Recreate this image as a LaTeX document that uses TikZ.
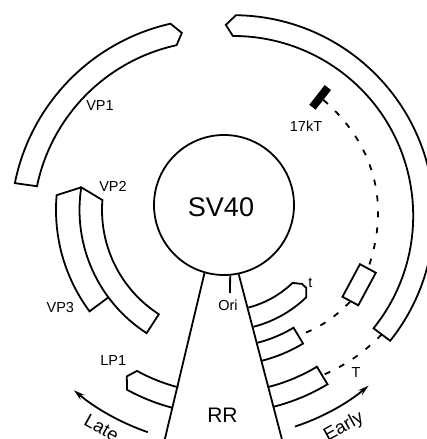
\documentclass[tikz,border=0pt]{standalone}
\usepackage{fontspec}
\setmainfont{Liberation Sans}
\usetikzlibrary{arrows.meta}

\begin{document}
\begin{tikzpicture}[x=1pt,y=1pt,
  gene/.style={line width=1.8pt,line join=miter},
  intron/.style={line width=1.8pt,dash pattern=on 6pt off 10pt},
  dir/.style={line width=1.8pt,-{Stealth[length=11pt,width=6pt]}},
  lbl/.style={font=\fontsize{14.5}{14.5}\selectfont,inner sep=0pt},
  big/.style={font=\fontsize{18.5}{18.5}\selectfont,inner sep=0pt}]
\useasboundingbox (0,0) rectangle (426,439);
% centres of the (not quite concentric) arcs
\coordinate (O) at (224,227);
\coordinate (cE) at (233.5,223.3);
\coordinate (cV) at (215.4,215.8);
\coordinate (cP) at (226,229);

% genome and replication region
\node[draw,circle,gene,minimum size=140,inner sep=0pt] (sv) at (224,234) {};
\node[font=\fontsize{27}{27}\selectfont,inner sep=0pt] (svlbl) at (221,232) {SV40};
\coordinate (oriEnd) at (230,146);
\draw[gene] (sv.275) -- (oriEnd);
\node[lbl] (ori) at (228,134) {Ori};
\node[font=\fontsize{21}{21}\selectfont,inner sep=0pt] (rr) at (222.5,24) {RR};

% early side
\begin{scope}[shift={(O)}]
  \coordinate (rrL) at (255.4:234.6);
  \coordinate (rrR) at (-75.7:234.3);
  % small t
  \draw[gene] (-75.7:98.6) arc[start angle=-75.7,end angle=-46,radius=98.6]
    -- (-42.7:106) -- (-42.7:112) -- (-46:118.5)
    arc[start angle=-46,end angle=-75.7,radius=118.5];
  % first exons
  \draw[gene] (-75.7:135) arc[start angle=-75.7,end angle=-59,radius=135]
    -- (-59:153.5) arc[start angle=-59,end angle=-75.7,radius=153.5];
  \coordinate (ex2) at (-59:144.3);
  \draw[gene] (-75.7:180.5) arc[start angle=-75.7,end angle=-59,radius=180.5]
    -- (-59:201) arc[start angle=-59,end angle=-75.7,radius=201];
  \coordinate (ex3) at (-59:190.7);
  % 17kT exons
  \node[fill=black,rotate=52,minimum width=25,minimum height=8,inner sep=0pt] (kT) at (50:149.6) {};
  \node[draw,gene,fill=white,rotate=-28.3,minimum width=18,minimum height=37,inner sep=0pt] (wb) at (-28.3:153.5) {};
  % LP1
  \draw[gene] (255.4:181.2) arc[start angle=255.4,end angle=241.3,radius=181.2]
    -- (239.4:191) -- (241.4:202.5)
    arc[start angle=241.4,end angle=255.4,radius=202.5];
  % directions
  \draw[dir] (250.9:233) arc[start angle=250.9,end angle=229.9,radius=233];
  \draw[dir] (-71.7:226) arc[start angle=-71.7,end angle=-50.2,radius=226];
\end{scope}
\draw[gene] (sv.254) -- (rrL);
\draw[gene] (sv.282) -- (rrR);

% large T second exon
\begin{scope}[shift={(cE)}]
  \draw[gene] (-38.8:179.7) arc[start angle=-38.8,end angle=90.2,radius=179.7]
    -- (92.3:191) -- (89.3:200.5)
    arc[start angle=89.3,end angle=-38.6,radius=200.5] -- cycle;
  \coordinate (bigT) at (-38.7:190);
\end{scope}

% VP1
\begin{scope}[shift={(cV)}]
  \draw[gene] (168.3:182.2) arc[start angle=168.3,end angle=102.3,radius=182.2]
    -- (100:193.3) -- (102.7:204.5)
    arc[start angle=102.7,end angle=168.7,radius=204.5] -- cycle;
\end{scope}

% VP2 and VP3
\begin{scope}[shift={(cP)}]
  \draw[gene] (216.6:146.5) -- (216.6:170)
    arc[start angle=216.6,end angle=175,radius=170] -- (171.1:146.5);
  \draw[gene] (171.1:146.5) arc[start angle=171.1,end angle=237.2,radius=146.5]
    -- (237.2:124) arc[start angle=237.2,end angle=175.4,radius=124] -- cycle;
\end{scope}

% introns
\draw[intron] (kT.south) to[bend left=34] (wb.north);
\draw[intron] (wb.south) to[bend left=12] (ex2);
\draw[intron] (bigT) to[bend left=10] (ex3);

% labels
\node[lbl] (vp1) at (100,333) {VP1};
\node[lbl] (vp2) at (113,253) {VP2};
\node[lbl] (vp3) at (60.3,131.5) {VP3};
\node[lbl] (lp1) at (113.3,78) {LP1};
\node[lbl] (kTlbl) at (306,313) {17kT};
\node[lbl] (tlbl) at (310.5,156.5) {t};
\node[lbl] (Tlbl) at (356,66) {T};
\node[big,rotate=-29] (late) at (101.7,11) {Late};
\node[big,rotate=29] (early) at (344,12) {Early};
\end{tikzpicture}
\end{document}
